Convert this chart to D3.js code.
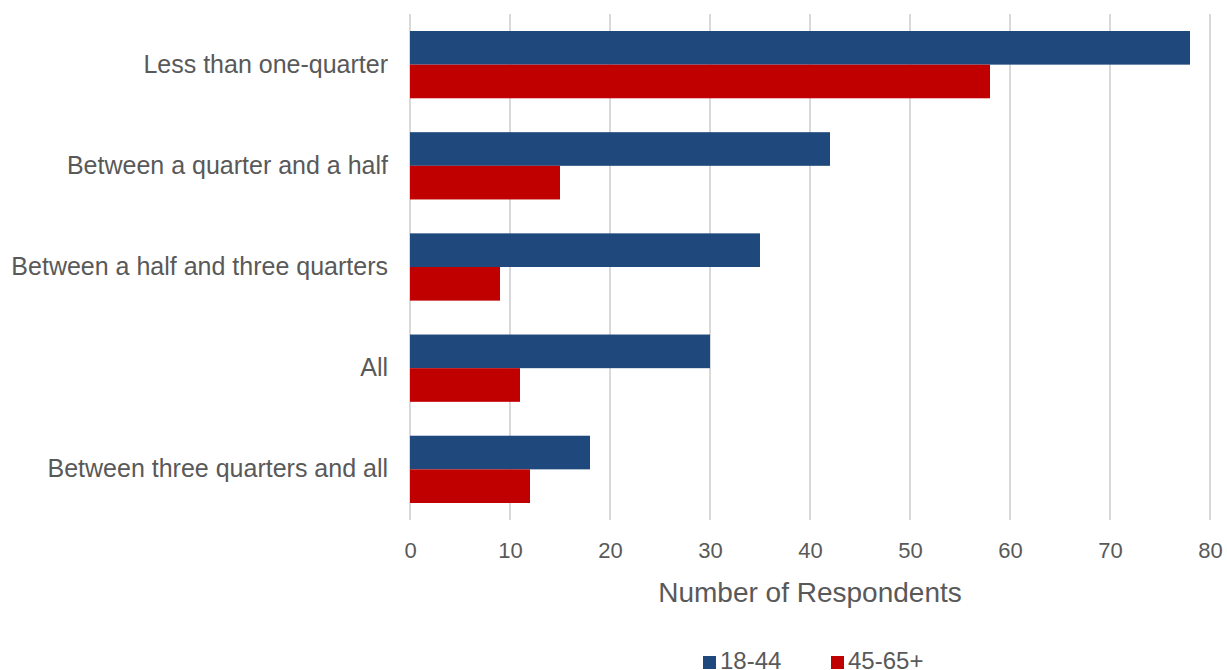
<!DOCTYPE html>
<html lang="en">
<head>
<meta charset="UTF-8">
<title>Respondents by age</title>
<style>
  body { margin: 0; background: #fff; }
  text { font-family: "Liberation Sans", Arial, sans-serif; fill: #595959; }
</style>
</head>
<body>
<div id="chart"></div>
<script src="https://d3js.org/d3.v7.min.js"></script>
<script>
// data
const categories = ["Less than one-quarter", "Between a quarter and a half",
  "Between a half and three quarters", "All", "Between three quarters and all"];
const seriesNames = ["18-44", "45-65+"];
const young = [78, 42, 35, 30, 18];
const older = [58, 15, 9, 11, 12];
const xTicks = [0, 10, 20, 30, 40, 50, 60, 70, 80];
const colors = ["#1f497d", "#c00000"];

const W = 1227, H = 670;
const svg = d3.select("#chart").append("svg")
  .attr("width", W).attr("height", H);

const x = d3.scaleLinear().domain([0, 80]).range([410, 1210]);
const y = d3.scaleBand().domain(categories).range([14, 520])
  .paddingInner(0.335).paddingOuter(0.168);
const inner = d3.scaleBand().domain(seriesNames).range([0, y.bandwidth()]);

// gridlines
svg.append("g").selectAll("line")
  .data(xTicks).enter().append("line")
  .attr("x1", d => x(d)).attr("x2", d => x(d))
  .attr("y1", 14).attr("y2", 520)
  .attr("stroke", "#d9d9d9").attr("stroke-width", 2);

// bars
const rows = categories.map((c, i) => ({ cat: c, vals: [young[i], older[i]] }));
const groups = svg.append("g").selectAll("g")
  .data(rows).enter().append("g")
  .attr("transform", d => `translate(0,${y(d.cat)})`);
groups.selectAll("rect")
  .data(d => d.vals.map((v, j) => ({ name: seriesNames[j], v: v, j: j })))
  .enter().append("rect")
  .attr("x", x(0))
  .attr("y", d => inner(d.name))
  .attr("width", d => x(d.v) - x(0))
  .attr("height", inner.bandwidth())
  .attr("fill", d => colors[d.j]);

// x axis labels
const xAxis = svg.append("g")
  .attr("transform", "translate(0,520)")
  .call(d3.axisBottom(x).tickValues(xTicks).tickSize(0));
xAxis.select(".domain").remove();
xAxis.selectAll("text")
  .attr("y", 38).attr("dy", 0)
  .style("font-size", "22px").attr("fill", "#595959")
  .style("font-family", "Liberation Sans, Arial, sans-serif");

// y axis labels
const yAxis = svg.append("g")
  .attr("transform", "translate(410,0)")
  .call(d3.axisLeft(y).tickSize(0).tickPadding(22));
yAxis.select(".domain").remove();
yAxis.selectAll("text")
  .style("font-size", "25px").attr("fill", "#595959")
  .style("font-family", "Liberation Sans, Arial, sans-serif");

// axis title
svg.append("text")
  .attr("x", 810).attr("y", 602)
  .attr("text-anchor", "middle")
  .style("font-size", "28px")
  .text("Number of Respondents");

// legend
const legend = svg.append("g").selectAll("g")
  .data(seriesNames).enter().append("g")
  .attr("transform", (d, i) => `translate(${703 + i * 128},0)`);
legend.append("rect")
  .attr("x", 0).attr("y", 656).attr("width", 13).attr("height", 13)
  .attr("fill", (d, i) => colors[i]);
legend.append("text")
  .attr("x", 17).attr("y", 669)
  .style("font-size", "24px")
  .text(d => d);
</script>
</body>
</html>
